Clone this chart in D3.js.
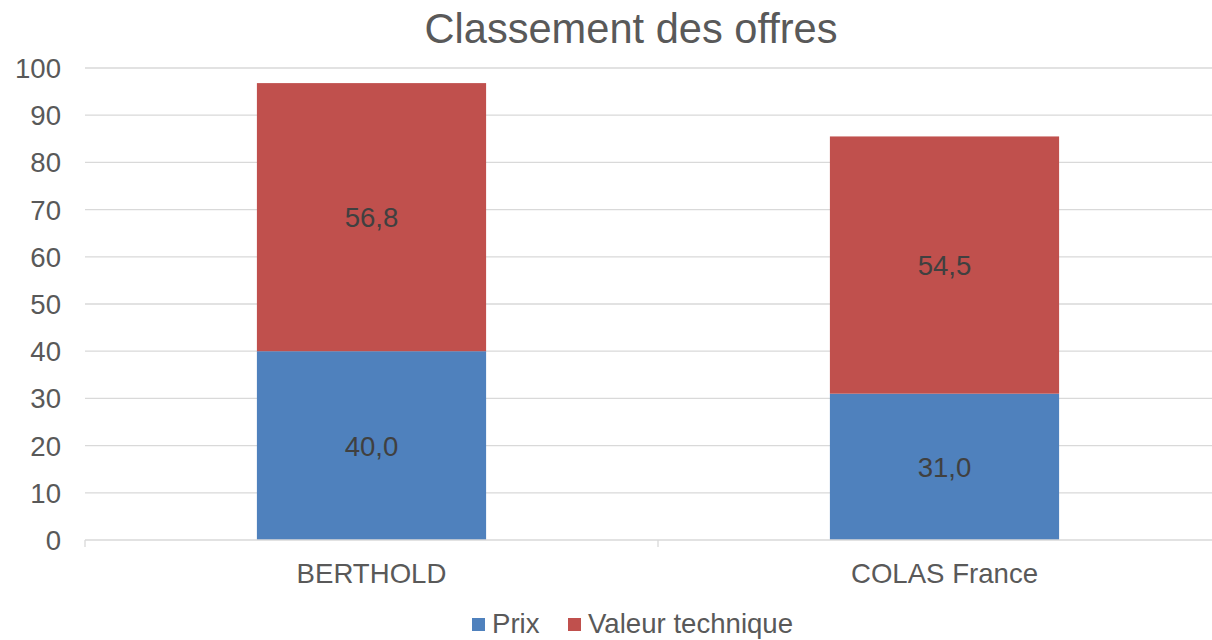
<!DOCTYPE html>
<html><head><meta charset="utf-8">
<script src="https://cdn.jsdelivr.net/npm/d3@7"></script>
<style>body{margin:0;background:#fff;} text{font-family:"Liberation Sans",Arial,sans-serif;}</style>
</head><body>
<svg id="c" width="1212" height="640"></svg>
<script>
const categories = ["BERTHOLD", "COLAS France"];
const prix = [40.0, 31.0];
const valeurTechnique = [56.8, 54.5];
const seriesNames = ["Prix", "Valeur technique"];
const yTicks = [0,10,20,30,40,50,60,70,80,90,100];
const colors = ["#4F81BD", "#C0504D"];

const svg = d3.select("#c");
const x = d3.scaleBand().domain(categories).range([85, 1231]).paddingInner(0.6).paddingOuter(0.3);
const y = d3.scaleLinear().domain([0, 100]).range([540, 68]);
const FS = 27.6;

// gridlines
svg.append("g").selectAll("line").data(yTicks.filter(d=>d>0)).join("line")
  .attr("x1", 85).attr("x2", 1212).attr("y1", d=>y(d)).attr("y2", d=>y(d))
  .attr("stroke", "#D9D9D9").attr("stroke-width", 1.3);

// y labels
svg.append("g").selectAll("text").data(yTicks).join("text")
  .attr("x", 61).attr("y", d=>y(d)).attr("dy", "0.36em").attr("text-anchor", "end")
  .attr("font-size", FS).attr("fill", "#595959").text(d=>d);

const data = categories.map((c,i)=>({cat:c, Prix:prix[i], "Valeur technique":valeurTechnique[i]}));
const stack = d3.stack().keys(seriesNames)(data);

const g = svg.append("g");
stack.forEach((s, si) => {
  g.append("g").selectAll("rect").data(s).join("rect")
    .attr("x", d=>x(d.data.cat)).attr("width", x.bandwidth())
    .attr("y", d=>y(d[1])).attr("height", d=>y(d[0])-y(d[1]))
    .attr("fill", colors[si]);
  g.append("g").selectAll("text").data(s).join("text")
    .attr("x", d=>x(d.data.cat)+x.bandwidth()/2).attr("y", d=>y((d[0]+d[1])/2))
    .attr("dy", "0.36em").attr("text-anchor", "middle").attr("font-size", FS).attr("fill", "#404040")
    .text(d=>(d[1]-d[0]).toFixed(1).replace(".", ","));
});

// x axis
svg.append("line").attr("x1", 85).attr("x2", 1212).attr("y1", 540).attr("y2", 540)
  .attr("stroke", "#D9D9D9").attr("stroke-width", 1.3);
const xt = [85, 85 + (1231-85)/2];
svg.append("g").selectAll("line").data(xt).join("line")
  .attr("x1", d=>d).attr("x2", d=>d).attr("y1", 540).attr("y2", 547)
  .attr("stroke", "#D9D9D9").attr("stroke-width", 1.3);
svg.append("g").selectAll("text").data(categories).join("text")
  .attr("x", d=>x(d)+x.bandwidth()/2).attr("y", 583).attr("text-anchor", "middle")
  .attr("font-size", FS).attr("fill", "#595959").text(d=>d);

// title
svg.append("text").attr("x", 631).attr("y", 43).attr("text-anchor", "middle")
  .attr("font-size", 41.6).attr("fill", "#595959").text("Classement des offres");

// legend
const leg = [{n:seriesNames[0], x:472, c:colors[0]}, {n:seriesNames[1], x:568, c:colors[1]}];
const lg = svg.append("g").selectAll("g").data(leg).join("g");
lg.append("rect").attr("x", d=>d.x).attr("y", 618).attr("width", 13).attr("height", 13).attr("fill", d=>d.c);
lg.append("text").attr("x", d=>d.x+20).attr("y", 633).attr("font-size", FS).attr("fill", "#595959").text(d=>d.n);
</script>
</body></html>
